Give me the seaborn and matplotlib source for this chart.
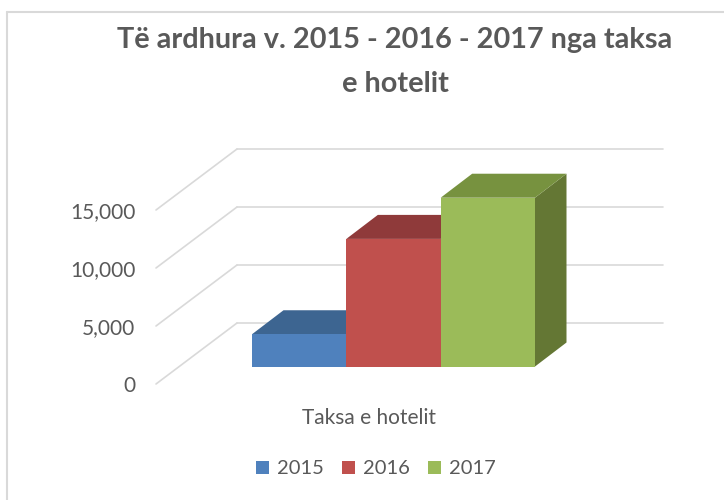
import pandas as pd
import matplotlib.pyplot as plt
import seaborn as sns
from matplotlib.patches import Polygon, Patch, ConnectionPatch
from matplotlib.lines import Line2D
from matplotlib.ticker import FuncFormatter

# te dhenat
kategorite = ["Taksa e hotelit"]
vitet = ["2015", "2016", "2017"]
vlerat = [2780, 11000, 14550]
nivelet = [0, 5000, 10000, 15000]

ngjyrat_para = ["#4F81BD", "#C0504D", "#9BBB59"]
ngjyrat_siper = ["#3D6591", "#8F3A3A", "#77923F"]
ngjyrat_anash = ["#345680", "#7A3130", "#647734"]

df = pd.DataFrame({"kategoria": kategorite * len(vitet), "viti": vitet, "vlera": vlerat})

sns.set_theme(style="white")
plt.rcParams["font.family"] = ["Lato", "DejaVu Sans"]
TXT = "#595959"
GRID = "#D9D9D9"

W, H = 724, 500
fig = plt.figure(figsize=(W / 100, H / 100), dpi=100)


def rect(left, top, right, bottom):
    return [left / W, 1 - bottom / H, (right - left) / W, (bottom - top) / H]


# muri i pasem, plani i perparem dhe plani i shtyllave (pixel)
ax_back = fig.add_axes(rect(237, 149, 663, 323))
ax_front = fig.add_axes(rect(156, 210, 582, 384))
ax_bar = fig.add_axes(rect(179.2, 192.5, 605.2, 366.5))

for ax in (ax_back, ax_front, ax_bar):
    ax.set_facecolor("none")
    ax.set_ylim(0, 15000)
    for s in ax.spines.values():
        s.set_visible(False)

ax_back.set_xlim(0, 1)
ax_back.set_xticks([])
ax_back.set_yticks([])
for v in nivelet:
    ax_back.axhline(v, color=GRID, lw=1.2, clip_on=False, zorder=0)

ax_front.set_xlim(0, 1)
ax_front.set_xticks([0.5])
ax_front.set_xticklabels(kategorite)
ax_front.set_yticks(nivelet)
ax_front.yaxis.set_major_formatter(FuncFormatter(lambda v, p: f"{int(v):,}"))
ax_front.tick_params(axis="y", length=0, pad=15, labelsize=15, labelcolor=TXT)
ax_front.tick_params(axis="x", length=0, pad=17, labelsize=15, labelcolor=TXT)

for v in nivelet:
    con = ConnectionPatch(xyA=(0, v), coordsA=ax_back.transData,
                          xyB=(0, v), coordsB=ax_front.transData,
                          color=GRID, lw=1.2)
    fig.add_artist(con)

# shtyllat
sns.barplot(data=df, x="kategoria", y="vlera", hue="viti", palette=ngjyrat_para,
            saturation=1, width=0.8, legend=False, edgecolor="none", linewidth=0,
            ax=ax_bar)
ax_bar.set_xlabel("")
ax_bar.set_ylabel("")
ax_bar.set_xticks([])
ax_bar.set_yticks([])

px_unit = (535 - 252) / 0.8
x0 = -(393.5 - 179.2) / px_unit
ax_bar.set_xlim(x0, x0 + 426 / px_unit)
ddx = 31.5 / px_unit
ddy = 24 * 15000 / 174

for i, p in enumerate(ax_bar.patches[:len(vitet)]):
    p.set_zorder(3)
    xa, w, h = p.get_x(), p.get_width(), p.get_height()
    xb = xa + w
    siper = Polygon([(xa, h), (xb, h), (xb + ddx, h + ddy), (xa + ddx, h + ddy)],
                    closed=True, facecolor=ngjyrat_siper[i], edgecolor="none",
                    clip_on=False, zorder=2)
    anash = Polygon([(xb, 0), (xb + ddx, ddy), (xb + ddx, h + ddy), (xb, h)],
                    closed=True, facecolor=ngjyrat_anash[i], edgecolor="none",
                    clip_on=False, zorder=2)
    ax_bar.add_patch(anash)
    ax_bar.add_patch(siper)

# titulli
fig.text(395 / W, 1 - 62 / H, "Të ardhura v. 2015 - 2016 - 2017 nga taksa\ne hotelit",
         ha="center", va="center", fontsize=20.8, fontweight="bold", color=TXT,
         linespacing=1.85)

# legjenda
handles = [Patch(facecolor=c, edgecolor="none") for c in ngjyrat_para]
fig.legend(handles, vitet, loc="center", bbox_to_anchor=(376 / W, 1 - 469 / H),
           ncol=3, frameon=False, fontsize=14.5, labelcolor=TXT,
           handlelength=0.65, handleheight=0.65, handletextpad=0.4, columnspacing=0.9)

# korniza
fig.add_artist(Line2D([6.5 / W, 6.5 / W], [0, 1 - 12 / H], color=GRID, lw=1.5))
fig.add_artist(Line2D([6.5 / W, 1], [1 - 12 / H, 1 - 12 / H], color=GRID, lw=1.5))

fig.savefig("out.png", dpi=100)
